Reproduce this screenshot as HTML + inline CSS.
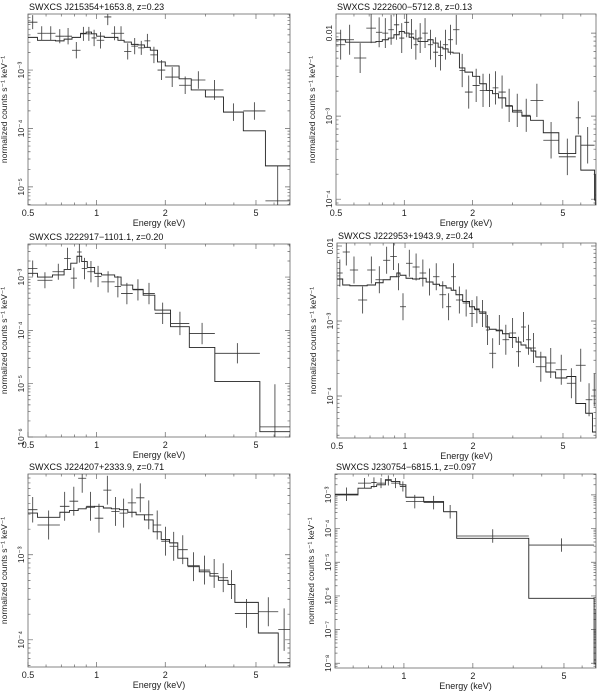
<!DOCTYPE html>
<html><head><meta charset="utf-8"><style>
html,body{margin:0;padding:0;background:#fff;}
svg{display:block;font-family:"Liberation Sans",Arial,sans-serif;}
</style></head><body>
<svg id="chart" width="600" height="691" viewBox="0 0 600 691" xmlns="http://www.w3.org/2000/svg"></svg>
<script>
// ---- Panel 1: SWXCS J215354+1653.8 ----
const p1Edges=[0.5,0.55,0.6,0.66,0.72,0.78,0.85,0.9,0.95,1.0,1.08,1.16,1.24,1.32,1.42,1.52,1.62,1.72,1.85,2.0,2.3,2.6,3.0,3.6,4.4,5.5,7.05];
const p1ModelLog=[-2.44,-2.49,-2.49,-2.50,-2.47,-2.44,-2.37,-2.35,-2.38,-2.42,-2.44,-2.44,-2.49,-2.52,-2.56,-2.57,-2.61,-2.66,-2.86,-2.93,-3.15,-3.34,-3.46,-3.72,-4.04,-4.64];
const p1DataLog=[-2.18,-2.37,-2.37,-2.42,-2.42,-2.66,-2.38,-2.38,-2.45,-2.49,-2.09,-2.37,-2.37,-2.68,-2.59,-2.62,-2.50,-2.74,-3.00,-3.12,-3.26,-3.17,-3.34,-3.72,-3.70,-5.24];
const p1ErrDex=[0.12,0.12,0.12,0.12,0.14,0.14,0.12,0.12,0.14,0.14,0.14,0.12,0.12,0.14,0.14,0.12,0.12,0.14,0.17,0.17,0.15,0.15,0.17,0.15,0.15,0.6];
const p1YTicks=[-3,-4,-5];
const p1YLabels=["10⁻³","10⁻⁴","10⁻⁵"];

// ---- Panel 2: SWXCS J222600-5712.8 ----
const p2Edges=[0.5,0.55,0.6,0.68,0.75,0.8,0.85,0.9,0.95,1.0,1.05,1.1,1.15,1.2,1.27,1.34,1.41,1.48,1.56,1.64,1.75,1.85,2.0,2.15,2.3,2.45,2.6,2.8,3.0,3.3,3.6,4.1,4.8,5.7,6.0,6.9,7.0];
const p2ModelLog=[-2.08,-2.11,-2.11,-2.11,-2.10,-2.08,-2.06,-2.02,-1.98,-2.00,-2.05,-2.07,-2.10,-2.10,-2.08,-2.12,-2.17,-2.19,-2.23,-2.24,-2.42,-2.47,-2.52,-2.61,-2.69,-2.73,-2.78,-2.88,-2.95,-3.00,-3.05,-3.20,-3.45,-3.24,-3.65,-4.01];
const p2DataLog=[-2.14,-2.08,-2.30,-1.94,-1.99,-2.00,-1.96,-1.90,-2.06,-1.87,-2.01,-2.14,-2.06,-2.00,-2.14,-2.23,-2.27,-2.14,-2.08,-1.96,-2.45,-2.71,-2.63,-2.69,-2.69,-2.66,-2.71,-2.87,-2.93,-2.99,-2.81,-3.29,-3.49,-3.02,-3.35,-3.95];
const p2ErrDex=[0.18,0.18,0.18,0.18,0.18,0.18,0.18,0.18,0.18,0.18,0.18,0.18,0.18,0.18,0.18,0.18,0.18,0.18,0.18,0.18,0.2,0.2,0.2,0.2,0.2,0.2,0.2,0.2,0.2,0.2,0.2,0.22,0.22,0.2,0.22,0.25];
const p2YTicks=[-2,-3,-4];
const p2YLabels=["0.01","10⁻³","10⁻⁴"];

// ---- Panel 3: SWXCS J222917-1101.1 ----
const p3Edges=[0.5,0.55,0.64,0.72,0.77,0.82,0.86,0.91,0.98,1.05,1.20,1.28,1.44,1.60,1.80,2.11,2.55,3.3,5.2,7.05];
const p3ModelLog=[-2.93,-3.00,-2.96,-2.86,-2.74,-2.61,-2.71,-2.82,-2.93,-2.96,-3.00,-3.15,-3.23,-3.34,-3.62,-3.93,-4.32,-4.96,-5.90];
const p3DataLog=[-2.84,-3.06,-2.90,-2.65,-3.02,-2.53,-2.84,-2.90,-2.99,-3.09,-3.18,-3.31,-3.24,-3.31,-3.68,-3.87,-4.06,-4.43,-5.81];
const p3ErrDex=[0.15,0.15,0.15,0.2,0.2,0.2,0.2,0.2,0.2,0.2,0.2,0.2,0.2,0.2,0.2,0.22,0.2,0.19,0.8];
const p3YTicks=[-3,-4,-5,-6];
const p3YLabels=["10⁻³","10⁻⁴","10⁻⁵","10⁻⁶"];

// ---- Panel 4: SWXCS J222953+1943.9 ----
const p4Edges=[0.5,0.53,0.57,0.62,0.68,0.74,0.80,0.86,0.92,0.95,1.01,1.08,1.16,1.24,1.33,1.42,1.52,1.60,1.68,1.80,1.93,2.03,2.13,2.28,2.36,2.53,2.70,2.89,3.10,3.26,3.43,3.61,3.79,4.2,4.64,5.2,5.7,6.3,6.75,7.0];
const p4ModelLog=[-2.44,-2.52,-2.53,-2.53,-2.52,-2.49,-2.45,-2.41,-2.36,-2.39,-2.43,-2.44,-2.43,-2.48,-2.51,-2.53,-2.56,-2.59,-2.65,-2.74,-2.81,-2.84,-2.88,-3.08,-3.11,-3.13,-3.17,-3.22,-3.28,-3.32,-3.36,-3.40,-3.48,-3.68,-3.76,-3.74,-4.10,-4.23,-4.48];
const p4DataLog=[-2.36,-2.08,-2.32,-2.72,-2.32,-2.45,-2.19,-2.14,-2.41,-2.81,-2.23,-2.28,-2.36,-2.48,-2.41,-2.65,-2.81,-2.41,-2.72,-2.76,-2.90,-2.85,-2.90,-3.12,-3.43,-3.12,-3.25,-3.16,-3.41,-3.08,-3.25,-3.36,-3.61,-3.56,-3.65,-3.83,-3.59,-4.05,-3.92];
const p4ErrDex=[0.18,0.18,0.18,0.18,0.18,0.18,0.18,0.18,0.18,0.18,0.18,0.18,0.18,0.18,0.18,0.18,0.18,0.18,0.18,0.18,0.18,0.18,0.18,0.2,0.2,0.2,0.2,0.2,0.2,0.2,0.2,0.2,0.2,0.2,0.2,0.2,0.22,0.22,0.22];
const p4YTicks=[-2,-3,-4];
const p4YLabels=["0.01","10⁻³","10⁻⁴"];

// ---- Panel 5: SWXCS J224207+2333.9 ----
const p5Edges=[0.5,0.55,0.69,0.76,0.83,0.90,0.98,1.07,1.16,1.26,1.37,1.49,1.62,1.77,1.92,2.09,2.27,2.51,2.82,3.14,3.42,3.77,4.04,5.12,6.26,7.05];
const p5ModelLog=[-2.51,-2.56,-2.50,-2.48,-2.46,-2.44,-2.43,-2.45,-2.46,-2.47,-2.50,-2.53,-2.59,-2.73,-2.82,-2.86,-3.04,-3.13,-3.20,-3.25,-3.30,-3.35,-3.56,-3.92,-4.27];
const p5DataLog=[-2.47,-2.65,-2.43,-2.37,-2.10,-2.43,-2.57,-2.24,-2.49,-2.51,-2.39,-2.33,-2.53,-2.65,-2.84,-2.90,-2.94,-3.14,-3.18,-3.22,-3.27,-3.35,-3.69,-3.67,-3.88];
const p5ErrDex=[0.15,0.17,0.17,0.17,0.17,0.17,0.17,0.17,0.17,0.17,0.17,0.17,0.17,0.17,0.17,0.17,0.17,0.17,0.17,0.17,0.17,0.17,0.17,0.17,0.25];
const p5YTicks=[-3,-4];
const p5YLabels=["10⁻³","10⁻⁴"];

// ---- Panel 6: SWXCS J230754-6815.1 ----
const p6Edges=[0.5,0.63,0.72,0.76,0.83,0.88,0.96,1.02,1.22,1.49,1.70,3.51,6.77,7.0];
const p6ModelLog=[-3.00,-2.80,-2.75,-2.70,-2.55,-2.60,-2.70,-3.07,-3.20,-3.50,-4.29,-6.07,-8.0];
const p6DataLog=[-2.98,-2.65,-2.63,-2.65,-2.57,-2.65,-2.75,-3.20,-3.23,-3.50,-4.22,-4.49,-7.9];
const p6ErrDex=[0.2,0.15,0.15,0.15,0.15,0.15,0.15,0.2,0.2,0.2,0.2,0.2,1.5];
const p6YTicks=[-3,-4,-5,-6,-7,-8];
const p6YLabels=["10⁻³","10⁻⁴","10⁻⁵","10⁻⁶","10⁻⁷","10⁻⁸"];

const xTickVals=[0.5,1,2,5];
const xTickLabels=["0.5","1","2","5"];

const NS="http://www.w3.org/2000/svg";
const svg=document.getElementById('chart');
function mk(tag,attrs,parent){const e=document.createElementNS(NS,tag);for(const k in attrs)e.setAttribute(k,attrs[k]);(parent||svg).appendChild(e);return e;}

const panels=[
 {id:1,title:"SWXCS J215354+1653.8, z=0.23",L:28,R:290,T:14,B:205,xmin:0.5,xmax:7.05,ytop:-2.04,ybot:-5.31,edges:p1Edges,model:p1ModelLog,data:p1DataLog,err:p1ErrDex,yt:p1YTicks,yl:p1YLabels,show05:true},
 {id:2,title:"SWXCS J222600−5712.8, z=0.13",L:336,R:596,T:14,B:205,xmin:0.5,xmax:7.0,ytop:-1.77,ybot:-4.07,edges:p2Edges,model:p2ModelLog,data:p2DataLog,err:p2ErrDex,yt:p2YTicks,yl:p2YLabels,show05:true},
 {id:3,title:"SWXCS J222917−1101.1, z=0.20",L:28,R:290,T:244,B:437,xmin:0.5,xmax:7.05,ytop:-2.38,ybot:-6.0,edges:p3Edges,model:p3ModelLog,data:p3DataLog,err:p3ErrDex,yt:p3YTicks,yl:p3YLabels,show05:true},
 {id:4,title:"SWXCS J222953+1943.9, z=0.24",L:337,R:596,T:243,B:438,xmin:0.5,xmax:7.0,ytop:-1.96,ybot:-4.56,edges:p4Edges,model:p4ModelLog,data:p4DataLog,err:p4ErrDex,yt:p4YTicks,yl:p4YLabels,show05:true},
 {id:5,title:"SWXCS J224207+2333.9, z=0.71",L:28,R:290,T:474,B:667,xmin:0.5,xmax:7.05,ytop:-2.05,ybot:-4.32,edges:p5Edges,model:p5ModelLog,data:p5DataLog,err:p5ErrDex,yt:p5YTicks,yl:p5YLabels,show05:true},
 {id:6,title:"SWXCS J230754−6815.1, z=0.097",L:335,R:596,T:474,B:668,xmin:0.5,xmax:6.9,ytop:-2.38,ybot:-8.14,edges:p6Edges,model:p6ModelLog,data:p6DataLog,err:p6ErrDex,yt:p6YTicks,yl:p6YLabels,show05:false}
];

panels.forEach(p=>{
  const g=mk('g',{});
  
  
  const lx0=Math.log10(p.xmin), lx1=Math.log10(p.xmax);
  const X=e=>p.L+(Math.log10(e)-lx0)/(lx1-lx0)*(p.R-p.L);
  const Y=l=>p.T+(p.ytop-l)/(p.ytop-p.ybot)*(p.B-p.T);
  const cid='clip'+p.id;
  const cp=mk('clipPath',{id:cid},g);
  mk('rect',{x:p.L,y:p.T,width:p.R-p.L,height:p.B-p.T},cp);

  // frame
  const fr=mk('rect',{x:p.L,y:p.T,width:p.R-p.L,height:p.B-p.T,fill:'none',stroke:'#666','stroke-width':0.8},g);
  
  

  // x ticks
  let tk='';
  for(let d=-1;d<=0;d++){for(let m=1;m<=9;m++){const e=m*Math.pow(10,d);if(e<p.xmin-1e-9||e>p.xmax)continue;
    const x=X(e);const major=(m===1||m===2||m===5);const len=major?5:2.5;
    tk+=`M${x},${p.B}v${-len}M${x},${p.T}v${len}`;}}
  // y ticks
  for(let d=Math.floor(p.ybot);d<=Math.ceil(p.ytop);d++){for(let m=1;m<=9;m++){const l=d+Math.log10(m);if(l<p.ybot||l>p.ytop)continue;
    const y=Y(l);const len=m===1?5:2.5;tk+=`M${p.L},${y}h${len}M${p.R},${y}h${-len}`;}}
  const tp=mk('path',{d:tk,stroke:'#666','stroke-width':0.7,fill:'none'},g);
  
  

  // x tick labels
  xTickVals.forEach((v,i)=>{
    if(v===0.5&&!p.show05)return;
    const t=mk('text',{x:X(v),y:p.B+11,'font-size':9,'text-anchor':'middle',fill:'#222'},g);
    t.textContent=xTickLabels[i];
    
    
  });
  // y tick labels (rotated)
  p.yt.forEach((v,i)=>{
    const y=Y(v), x=p.L-4;
    const t=mk('text',{x:x,y:y,'font-size':8.5,'text-anchor':'middle',fill:'#222',transform:`rotate(-90 ${x} ${y})`},g);
    t.textContent=p.yl[i];
    
    
  });
  // titles
  const tt=mk('text',{x:p.L+1,y:p.T-4,'font-size':9,fill:'#111'},g);
  tt.textContent=p.title;
  
  
  const xt=mk('text',{x:(p.L+p.R)/2,y:p.B+21,'font-size':9,'text-anchor':'middle',fill:'#222'},g);
  xt.textContent='Energy (keV)';
  
  
  const yx=p.L-21, yy=(p.T+p.B)/2;
  const yt=mk('text',{x:yx,y:yy,'font-size':8.5,'text-anchor':'middle',fill:'#222',transform:`rotate(-90 ${yx} ${yy})`},g);
  yt.textContent='normalized counts s⁻¹ keV⁻¹';
  
  

  const cg=mk('g',{'clip-path':`url(#${cid})`},g);
  // model step line
  let d=`M${X(p.edges[0])},${Y(p.model[0])}`;
  p.model.forEach((m,i)=>{ if(i>0)d+=`V${Y(m)}`; d+=`H${X(p.edges[i+1])}`; });
  const mp=mk('path',{d:d,stroke:'#222','stroke-width':0.9,fill:'none'},cg);
  
  
  // data crosses
  p.data.forEach((v,i)=>{
    const lo=p.edges[i],hi=p.edges[i+1],c=Math.sqrt(lo*hi);
    const dd=`M${X(lo)},${Y(v)}H${X(hi)}M${X(c)},${Y(v+p.err[i])}V${Y(v-p.err[i])}`;
    const dp=mk('path',{d:dd,stroke:'#333','stroke-width':0.8,fill:'none'},cg);
    
    
  });
});
</script>
</body></html>
